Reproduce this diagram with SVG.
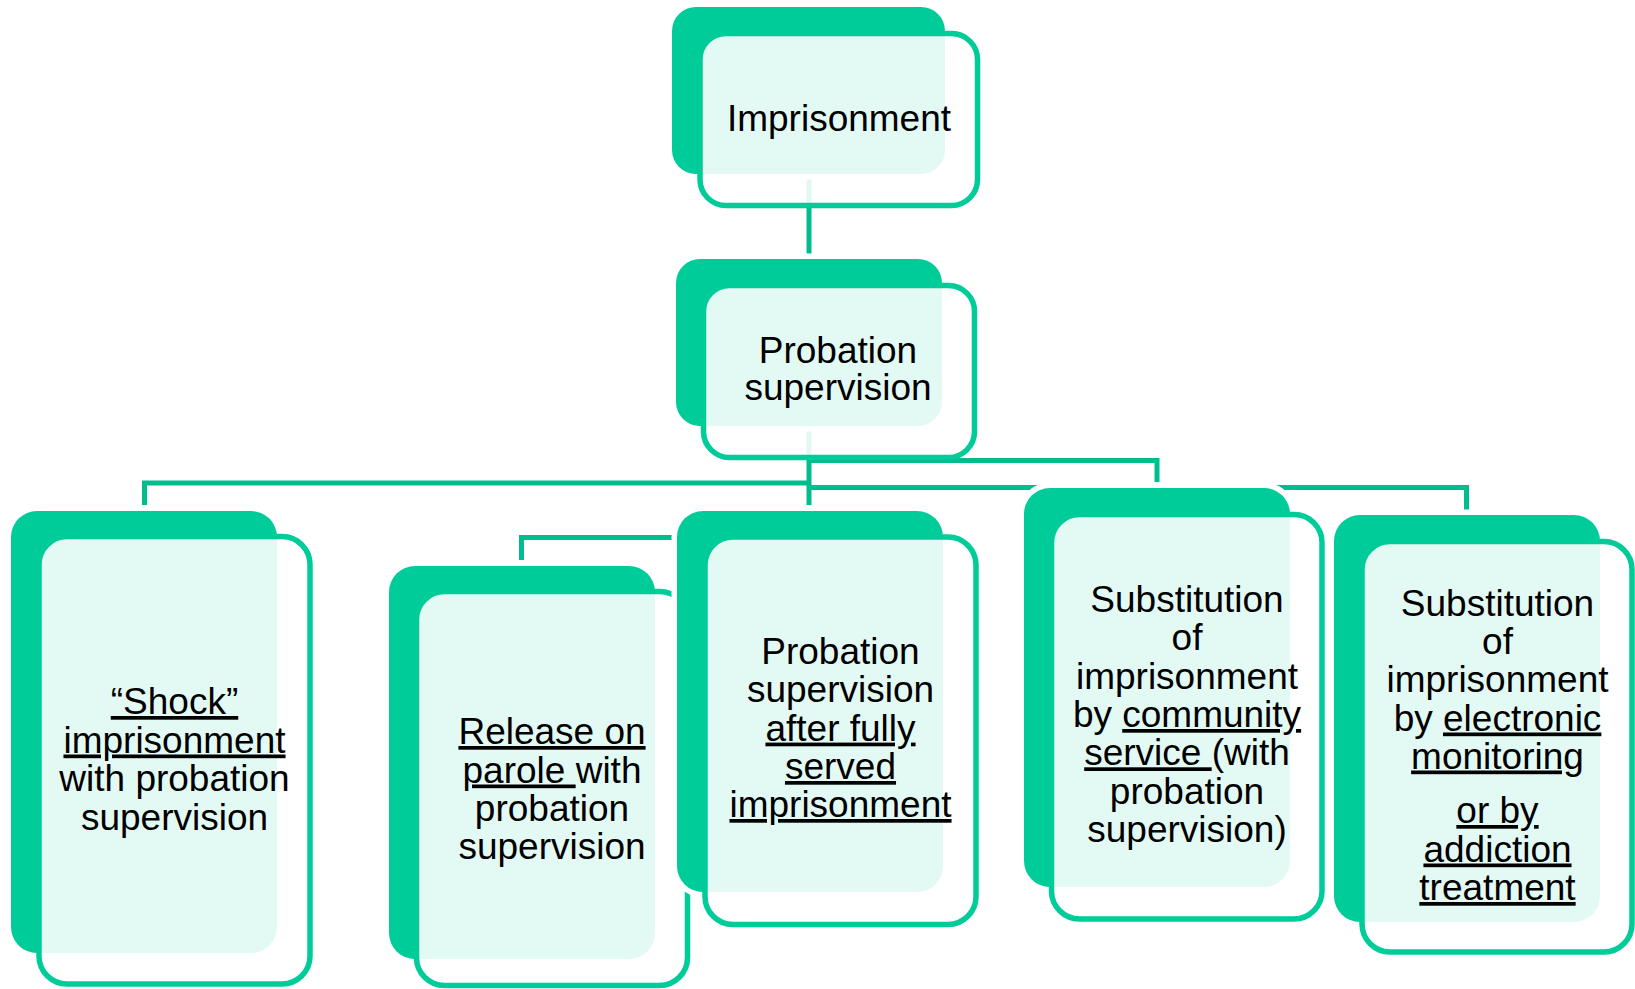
<svg xmlns="http://www.w3.org/2000/svg" width="1635" height="989" viewBox="0 0 1635 989">
<style>
.back{fill:#00CC99;stroke:#FFFFFF;stroke-width:11;paint-order:stroke;}
.front{fill:#FFFFFF;fill-opacity:0.89;stroke:#00CC99;stroke-width:5.5;}
.conn{fill:none;stroke:#00BD8E;stroke-width:5;stroke-linejoin:miter;}
text{font-family:"Liberation Sans",Arial,sans-serif;font-size:37px;fill:#000000;text-anchor:middle;}
.u{text-decoration:underline;}
</style>
<rect width="1635" height="989" fill="#FFFFFF"/>
<g id="connectors">
<path class="conn" d="M809,160 V258"/>
<path class="conn" d="M809,420 V505"/>
<path class="conn" d="M809,483 H144.5 V505"/>
<path class="conn" d="M809,460.5 H1157 V482"/>
<path class="conn" d="M809,487.5 H1466.5 V510"/>
<path class="conn" d="M809,537.5 H521.5 V560"/>
</g>
<g id="node-imprisonment">
<rect class="back" x="672" y="7" width="273" height="167" rx="24"/>
<rect class="front" x="700" y="33.5" width="277.5" height="172" rx="26"/>
<text x="839" y="131">Imprisonment</text>
</g>
<g id="node-probation">
<rect class="back" x="676" y="259" width="266" height="167" rx="24"/>
<rect class="front" x="703.5" y="285.5" width="271" height="172" rx="26"/>
<text x="838" y="363">Probation</text>
<text x="838" y="400">supervision</text>
</g>
<g id="node-shock">
<rect class="back" x="11" y="511" width="266" height="442" rx="26"/>
<rect class="front" x="39" y="536.5" width="271" height="447.5" rx="28"/>
<text x="174.5" y="714"><tspan class="u">“Shock”</tspan></text>
<text x="174.5" y="752.5"><tspan class="u">imprisonment</tspan></text>
<text x="174.5" y="791">with probation</text>
<text x="174.5" y="829.5">supervision</text>
</g>
<g id="node-release">
<rect class="back" x="389" y="566" width="266" height="393" rx="26"/>
<rect class="front" x="416.5" y="591.5" width="271" height="394" rx="28"/>
<text x="552" y="744"><tspan class="u">Release on</tspan></text>
<text x="552" y="782.5"><tspan class="u">parole </tspan>with</text>
<text x="552" y="821">probation</text>
<text x="552" y="858.5">supervision</text>
</g>
<g id="node-after">
<rect class="back" x="677" y="511" width="266" height="381" rx="26"/>
<rect class="front" x="705" y="537" width="271" height="387.5" rx="28"/>
<text x="840.5" y="664">Probation</text>
<text x="840.5" y="702.3">supervision</text>
<text x="840.5" y="740.6"><tspan class="u">after fully</tspan></text>
<text x="840.5" y="779"><tspan class="u">served</tspan></text>
<text x="840.5" y="817"><tspan class="u">imprisonment</tspan></text>
</g>
<g id="node-community">
<rect class="back" x="1024" y="488" width="266" height="399" rx="26"/>
<rect class="front" x="1051.5" y="514.5" width="270.5" height="404.5" rx="28"/>
<text x="1187" y="612">Substitution</text>
<text x="1187" y="650.3">of</text>
<text x="1187" y="688.6">imprisonment</text>
<text x="1187" y="727">by <tspan class="u">community</tspan></text>
<text x="1187" y="765.3"><tspan class="u">service </tspan>(with</text>
<text x="1187" y="803.6">probation</text>
<text x="1187" y="842">supervision)</text>
</g>
<g id="node-electronic">
<rect class="back" x="1334" y="515" width="266" height="407" rx="26"/>
<rect class="front" x="1362" y="541.5" width="270" height="410.5" rx="28"/>
<text x="1497.5" y="616">Substitution</text>
<text x="1497.5" y="654">of</text>
<text x="1497.5" y="692">imprisonment</text>
<text x="1497.5" y="730.5">by <tspan class="u">electronic</tspan></text>
<text x="1497.5" y="768.5"><tspan class="u">monitoring</tspan></text>
<text x="1497.5" y="823"><tspan class="u">or by</tspan></text>
<text x="1497.5" y="861.5"><tspan class="u">addiction</tspan></text>
<text x="1497.5" y="900"><tspan class="u">treatment</tspan></text>
</g>
</svg>
